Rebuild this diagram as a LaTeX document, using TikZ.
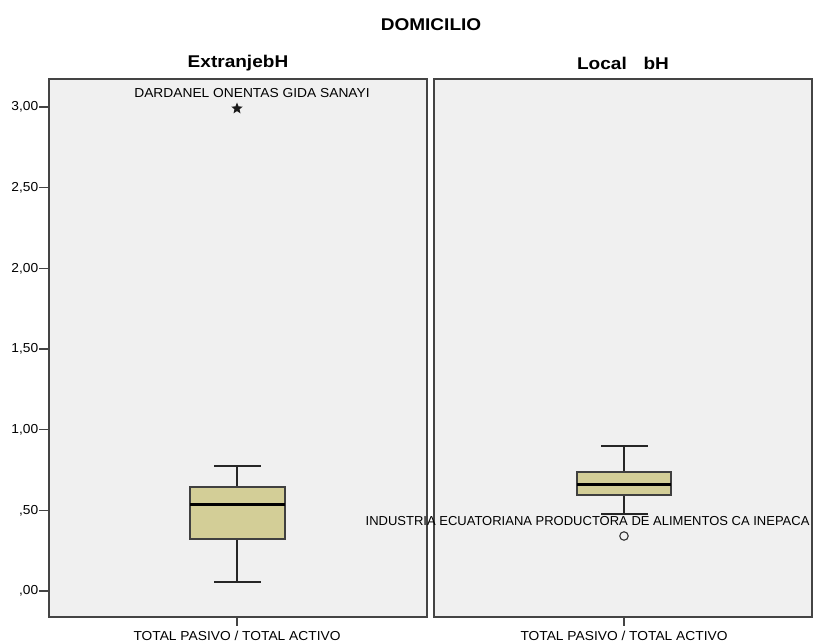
\documentclass[tikz,border=0pt]{standalone}
\usepackage{fontspec}
\setmainfont{Liberation Sans}
\usetikzlibrary{shapes.geometric}
\definecolor{panelfill}{RGB}{240,240,240}
\definecolor{frame}{RGB}{68,68,68}
\definecolor{boxfill}{RGB}{211,206,151}
\newcommand{\wide}[1]{\scalebox{1.06}[1]{#1}}
\tikzset{
  panel/.style={draw=frame, line width=1.4pt, fill=panelfill},
  boxbody/.style={draw=black!75, line width=1.6pt, fill=boxfill},
  whisk/.style={draw=black!85, line width=1.9pt},
  medline/.style={draw=black, line width=3pt},
  ticklab/.style={anchor=east, inner sep=0pt, font=\fontsize{13}{13}\selectfont},
  lab/.style={inner sep=0pt, font=\fontsize{13}{13}\selectfont},
  head/.style={inner sep=0pt, font=\fontsize{17}{17}\selectfont\bfseries},
  tickmark/.style={draw=frame, line width=1.4pt},
}
\begin{document}
\begin{tikzpicture}[x=1pt, y=-1pt]
\useasboundingbox (0,0) rectangle (814,644);
% titles
\node[head] (title) at (431,25) {\scalebox{1.12}[1]{DOMICILIO}};
\node[head] (hext) at (238,63) {\scalebox{1.12}[1]{ExtranjebH}};
\node[head] (hloc) at (623,63) {\scalebox{1.12}[1]{Local\hspace{0.6em} bH}};
% panels
\draw[panel] (49,79) rectangle (427,617);
\draw[panel] (434,79) rectangle (812,617);
% y axis ticks and labels
\foreach \v/\t in {0/{,00},0.5/{,50},1/{1,00},1.5/{1,50},2/{2,00},2.5/{2,50},3/{3,00}}{
  \pgfmathsetmacro{\yy}{591-161.3*\v}
  \draw[tickmark] (39,\yy) -- (49,\yy);
  \node[ticklab] at (38.5,\yy) {\wide{\t}};
}
% x axis ticks and labels
\draw[tickmark] (237,617) -- (237,626);
\draw[tickmark] (624,617) -- (624,626);
\node[lab] (xl) at (237,636) {\wide{TOTAL PASIVO / TOTAL ACTIVO}};
\node[lab] (xr) at (624,636) {\wide{TOTAL PASIVO / TOTAL ACTIVO}};
% left boxplot
\draw[whisk] (237,466) -- (237,487);
\draw[whisk] (237,539) -- (237,582);
\draw[whisk] (214,466) -- (261,466);
\draw[whisk] (214,582) -- (261,582);
\draw[boxbody] (190,487) rectangle (285,539);
\draw[medline] (190,504) -- (285,504);
\node[star, star points=5, star point ratio=2.3, fill=black!90, inner sep=0pt, minimum size=12pt] (ext) at (237,108.5) {};
\node[lab] (extlab) at (252,93) {\wide{DARDANEL ONENTAS GIDA SANAYI}};
% right boxplot
\draw[whisk] (624,446) -- (624,472);
\draw[whisk] (624,495) -- (624,514);
\draw[whisk] (601,446) -- (648,446);
\draw[whisk] (601,514) -- (648,514);
\draw[boxbody] (577,472) rectangle (671,495);
\draw[medline] (577,484) -- (671,484);
\node[circle, draw=black!80, line width=1.1pt, minimum size=8.5pt, inner sep=0pt] (out) at (624,536) {};
\node[lab, anchor=west] (outlab) at (365.5,521) {INDUSTRIA ECUATORIANA PRODUCTORA DE ALIMENTOS CA INEPACA};
\end{tikzpicture}
\end{document}
